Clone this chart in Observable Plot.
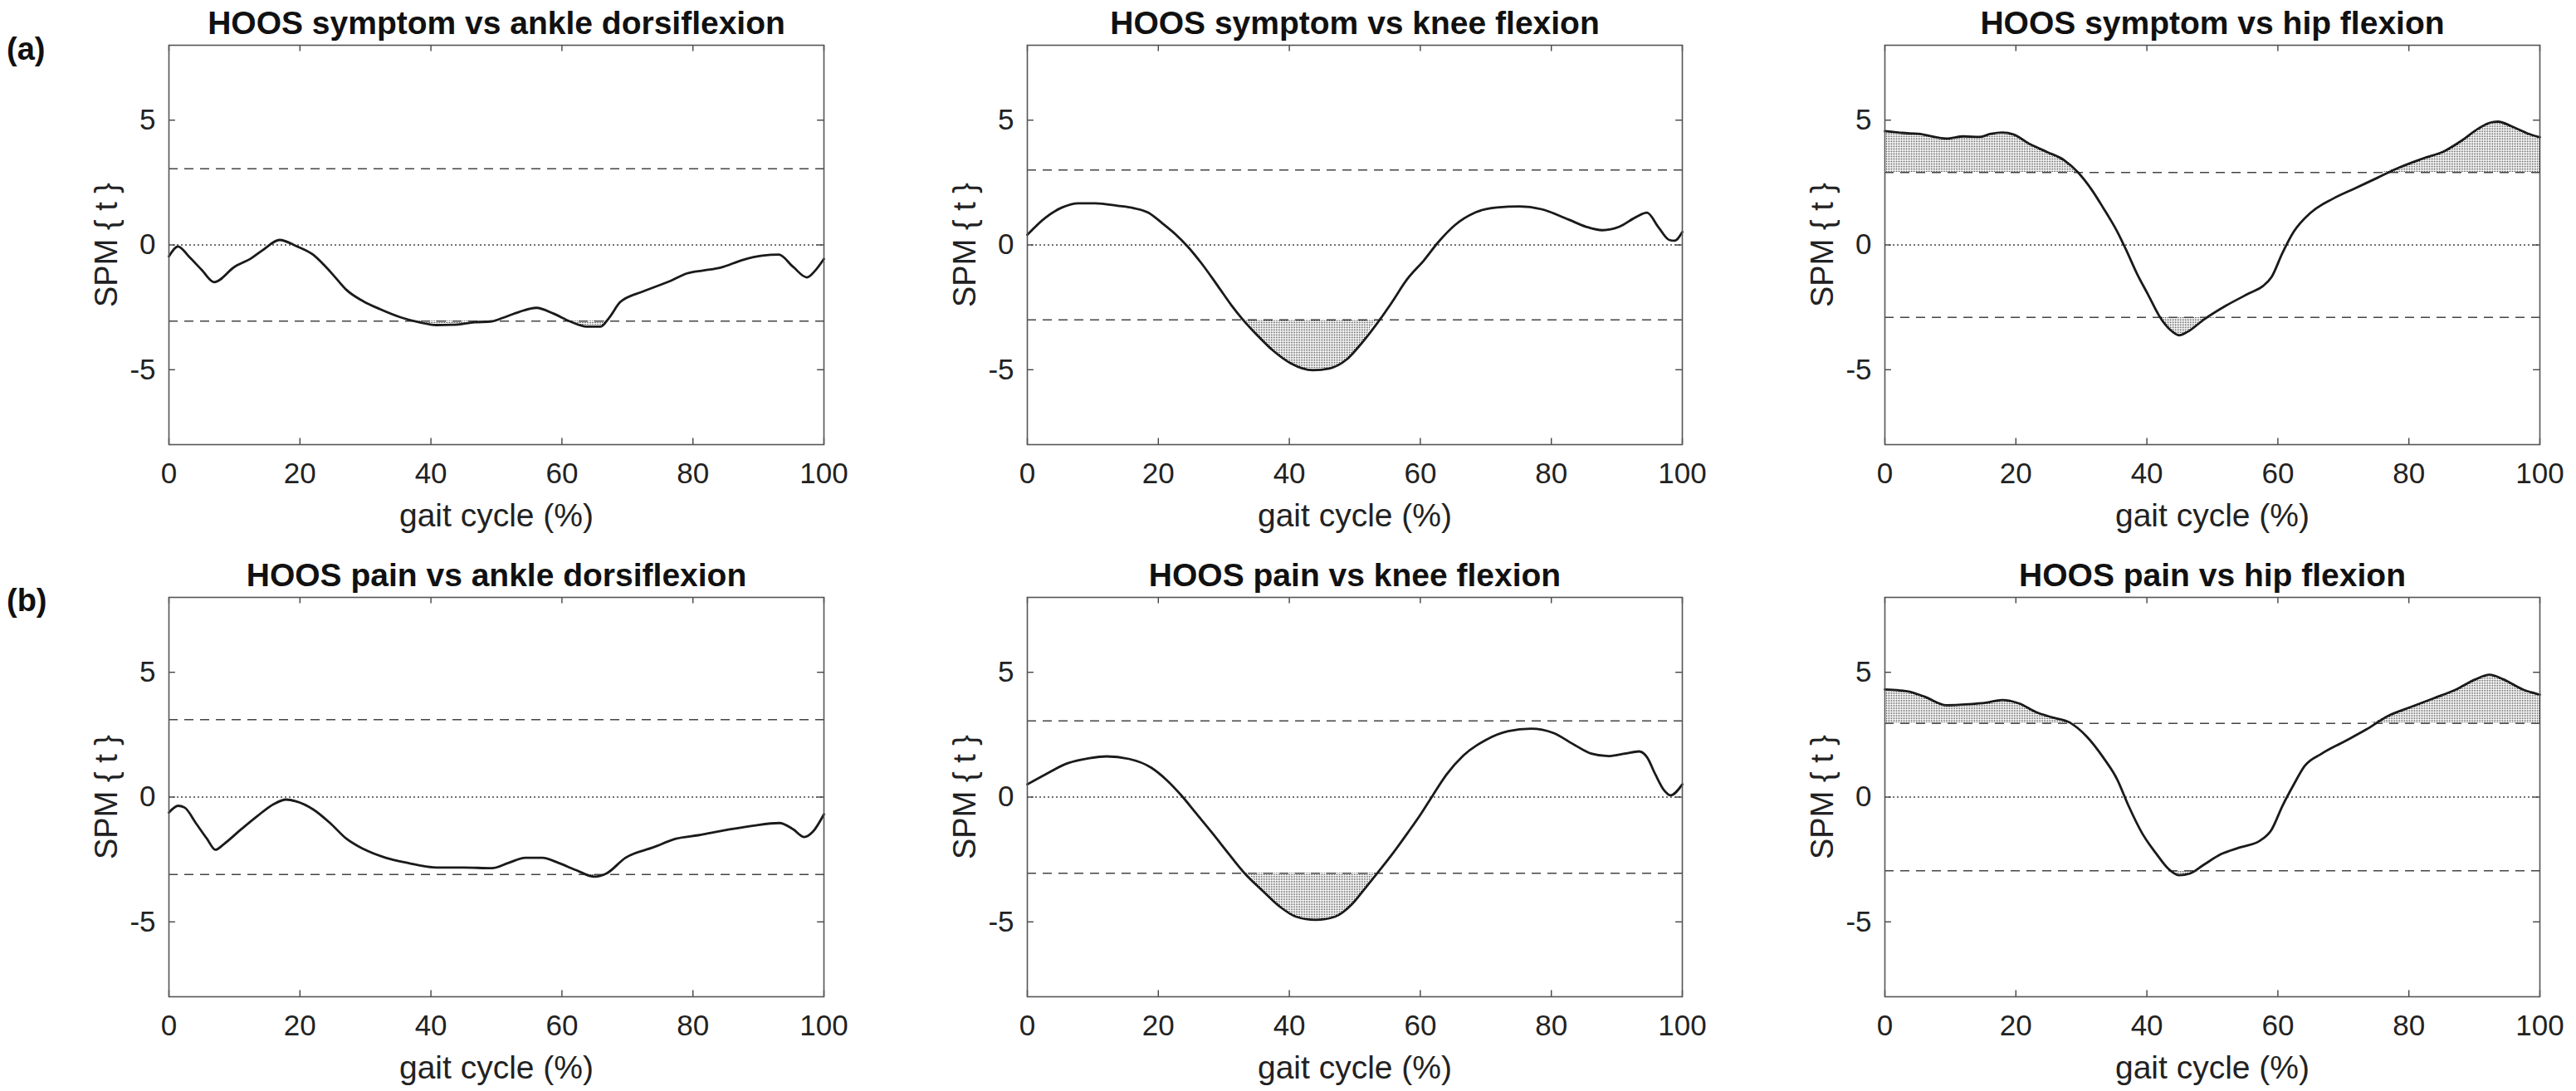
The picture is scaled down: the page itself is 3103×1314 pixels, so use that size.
<!DOCTYPE html>
<html>
<head>
<meta charset="utf-8">
<script src="https://cdn.jsdelivr.net/npm/d3@7"></script>
<script src="https://cdn.jsdelivr.net/npm/@observablehq/plot@0.6"></script>
<style>
  html, body { margin: 0; padding: 0; background: #fff; }
  body { width: 3103px; height: 1314px; position: relative; overflow: hidden;
         font-family: "Liberation Sans", Arial, Helvetica, sans-serif; color: #111; }
  .panel { position: absolute; }
  .tag { position: absolute; font-weight: bold; font-size: 38px; line-height: 1; left: 8px; }
</style>
</head>
<body>
<svg width="0" height="0" style="position:absolute">
  <defs>
    <pattern id="stip" width="2" height="2" patternUnits="userSpaceOnUse">
      <rect width="2" height="2" fill="#ffffff"></rect>
      <rect width="1" height="1" fill="#3a3a3a"></rect>
    </pattern>
  </defs>
</svg>
<div class="tag" style="top:40px">(a)</div>
<div class="tag" style="top:704px">(b)</div>
<div id="root"></div>
<script>
// ---------- data ----------
const xTicks = [0, 20, 40, 60, 80, 100];
const yTicks = [-5, 0, 5];
const xLabel = "gait cycle (%)";
const yLabel = "SPM { t }";

const titles = [
  "HOOS symptom vs ankle dorsiflexion",
  "HOOS symptom vs knee flexion",
  "HOOS symptom vs hip flexion",
  "HOOS pain vs ankle dorsiflexion",
  "HOOS pain vs knee flexion",
  "HOOS pain vs hip flexion"
];
const thresholds = [3.05, 3.0, 2.9, 3.1, 3.05, 2.95];

// (a) HOOS symptom vs ankle dorsiflexion
const symAnkleT = [0,1.4,3,5,6.9,10,12.6,14.3,16.9,19.4,22,23.7,25.4,27.1,29.7,32.2,35.6,38.2,40.8,43.3,46.7,49.3,51,53.5,56.1,58.7,61.2,63.8,65.9,67.2,68.9,72.3,76.6,79.1,81.7,84.2,87.6,90.6,93.1,95.3,97.4,98.7,100];
const symAnkleY = [-0.46,-0.06,-0.45,-1.0,-1.49,-0.88,-0.53,-0.21,0.2,-0.04,-0.39,-0.81,-1.3,-1.8,-2.26,-2.57,-2.92,-3.1,-3.21,-3.2,-3.1,-3.06,-2.92,-2.68,-2.52,-2.75,-3.06,-3.27,-3.27,-2.92,-2.29,-1.87,-1.44,-1.14,-1.02,-0.91,-0.6,-0.43,-0.39,-0.88,-1.3,-1.02,-0.56];

// (a) HOOS symptom vs knee flexion
const symKneeT = [0,2.7,5.3,7.8,10.4,13.8,16.3,18.5,20.6,22.7,24.4,26.6,29.1,31.2,32.9,35.1,37.6,40.2,43.6,46.1,48.7,51,53.8,55.5,58,60.6,62.7,65.3,68.3,71.7,75.1,78.5,82.7,85.3,87.8,90.4,92.9,94.6,96.3,98,98.8,100];
const symKneeY = [0.41,1.08,1.5,1.67,1.67,1.57,1.47,1.29,0.87,0.41,-0.04,-0.74,-1.65,-2.43,-2.99,-3.62,-4.25,-4.74,-5.02,-4.95,-4.6,-3.95,-3.0,-2.36,-1.37,-0.6,0.1,0.8,1.29,1.5,1.54,1.43,1.01,0.73,0.59,0.73,1.11,1.29,0.73,0.2,0.17,0.52];

// (a) HOOS symptom vs hip flexion
const symHipT = [0,2.6,5.1,9.4,12,14.5,16.2,17.9,19.7,22.2,24.8,27.4,29.5,31.6,33.3,35.5,36.8,38.5,40.2,41.9,43.6,44.9,46.2,48.7,52.1,55.6,57.7,59,60.7,62.4,65,68.4,71.8,75.2,78.6,82.1,85.5,88,90.6,92.3,93.6,95.7,98.3,100];
const symHipY = [4.56,4.49,4.45,4.26,4.35,4.33,4.45,4.5,4.42,4.03,3.72,3.39,2.9,2.2,1.5,0.52,-0.18,-1.16,-2.0,-2.85,-3.41,-3.62,-3.48,-2.99,-2.43,-1.94,-1.65,-1.3,-0.32,0.52,1.29,1.85,2.27,2.69,3.11,3.46,3.77,4.17,4.66,4.89,4.94,4.75,4.45,4.31];

// (b) HOOS pain vs ankle dorsiflexion
const painAnkleT = [0,1.4,2.4,4.1,5.8,7.1,8.4,10.9,13.5,16,17.9,19.4,22,24.6,27.1,29.7,33.1,36.5,40.8,45,49.3,51.8,54.4,57,59.5,62.1,65,66.8,69.7,74,77.4,80.8,85.1,89.3,93.2,95.3,97,98.3,100];
const painAnkleY = [-0.62,-0.35,-0.42,-1.04,-1.67,-2.11,-1.88,-1.32,-0.76,-0.28,-0.1,-0.17,-0.49,-1.04,-1.67,-2.08,-2.43,-2.64,-2.82,-2.82,-2.85,-2.64,-2.43,-2.43,-2.64,-2.92,-3.19,-3.06,-2.43,-2.01,-1.67,-1.53,-1.32,-1.14,-1.04,-1.29,-1.6,-1.39,-0.69];

// (b) HOOS pain vs knee flexion
const painKneeT = [0,2.7,6.1,9.5,12.1,15.5,18.9,21.4,23.6,25.7,28.3,30.8,33.2,35.9,38.5,41,44,47,49.5,51.7,53.4,55.5,58,60.2,61.9,64,66.6,70,73.4,76.9,80.3,83.6,86.1,88.7,91.2,93.4,94.6,95.9,97.2,98.2,100];
const painKneeY = [0.51,0.9,1.35,1.56,1.63,1.53,1.18,0.65,0.04,-0.63,-1.46,-2.29,-3.06,-3.75,-4.38,-4.79,-4.92,-4.79,-4.31,-3.61,-3.06,-2.36,-1.46,-0.63,0.07,0.9,1.67,2.29,2.64,2.74,2.57,2.08,1.74,1.64,1.74,1.83,1.6,0.9,0.28,0.07,0.51];

// (b) HOOS pain vs hip flexion
const painHipT = [0,3.4,6,9.4,12.8,15.4,17.9,20.5,23.1,25.6,28.2,30.8,33.3,35.5,37.2,39.3,41.5,43.2,44.9,46.6,48.7,51.3,54.3,57.3,59,60.7,62.4,64.1,66.7,70.1,73.5,76.9,80.3,83.8,87.2,90.2,92.3,94.4,97.4,100];
const painHipY = [4.31,4.24,4.03,3.68,3.72,3.78,3.89,3.75,3.4,3.19,2.99,2.43,1.6,0.69,-0.35,-1.46,-2.29,-2.85,-3.13,-3.06,-2.71,-2.29,-2.01,-1.74,-1.32,-0.35,0.49,1.25,1.74,2.22,2.71,3.26,3.61,3.96,4.31,4.72,4.9,4.72,4.31,4.1];

const seriesT = [symAnkleT, symKneeT, symHipT, painAnkleT, painKneeT, painHipT];
const seriesY = [symAnkleY, symKneeY, symHipY, painAnkleY, painKneeY, painHipY];

// ---------- layout ----------
const frameLefts = [203, 1237, 2270];
const frameTops = [54, 719];
const ML = 130, MR = 44, MT = 54, MB = 110;
const FW = 789, FH = 481;
const FONT = "'Liberation Sans', Arial, Helvetica, sans-serif";

const root = document.getElementById("root");

for (let i = 0; i < 6; i++) {
  const col = i % 3, row = Math.floor(i / 3);
  const thr = thresholds[i];
  const data = seriesT[i].map((t, j) => ({t, y: seriesY[i][j]}));
  const chart = Plot.plot({
    width: ML + FW + MR,
    height: MT + FH + MB,
    marginLeft: ML, marginRight: MR, marginTop: MT, marginBottom: MB,
    style: {fontFamily: FONT, fontSize: "35px", color: "#222", background: "transparent", overflow: "visible"},
    x: {domain: [0, 100], ticks: xTicks, tickSize: 0, tickPadding: 22, label: null, tickFormat: d => String(d)},
    y: {domain: [-8, 8], ticks: yTicks, tickSize: 0, tickPadding: 16, label: null, tickFormat: d => String(d)},
    marks: [
      Plot.areaY(data, {x: "t", y1: thr, y2: d => Math.max(d.y, thr), fill: "url(#stip)", curve: "monotone-x"}),
      Plot.areaY(data, {x: "t", y1: -thr, y2: d => Math.min(d.y, -thr), fill: "url(#stip)", curve: "monotone-x"}),
      Plot.ruleY([thr, -thr], {stroke: "#444", strokeWidth: 1.6, strokeDasharray: "11,8"}),
      Plot.ruleY([0], {stroke: "#444", strokeWidth: 1.6, strokeDasharray: "2,3"}),
      Plot.line(data, {x: "t", y: "y", stroke: "#1a1a1a", strokeWidth: 2.8, curve: "monotone-x"}),
      // inward MATLAB-style ticks on all four sides
      Plot.ruleX(xTicks, {y1: -8, y2: -7.75, stroke: "#444", strokeWidth: 1.4}),
      Plot.ruleX(xTicks, {y1: 8, y2: 7.75, stroke: "#444", strokeWidth: 1.4}),
      Plot.ruleY(yTicks, {x1: 0, x2: 1.0, stroke: "#444", strokeWidth: 1.4}),
      Plot.ruleY(yTicks, {x1: 100, x2: 99.0, stroke: "#444", strokeWidth: 1.4}),
      Plot.frame({stroke: "#555", strokeWidth: 1.6}),
      Plot.text([titles[i]], {text: d => d, frameAnchor: "top", dy: -26, lineAnchor: "middle",
        fontWeight: "bold", fontSize: 39, fill: "#111"}),
      Plot.text([xLabel], {text: d => d, frameAnchor: "bottom", dy: 86, lineAnchor: "middle",
        fontSize: 39, fill: "#222"}),
      Plot.text([yLabel], {text: d => d, frameAnchor: "left", dx: -75, rotate: -90, lineAnchor: "middle",
        textAnchor: "middle", fontSize: 38, fill: "#222"})
    ]
  });
  const wrap = document.createElement("div");
  wrap.className = "panel";
  wrap.style.left = (frameLefts[col] - ML) + "px";
  wrap.style.top = (frameTops[row] - MT) + "px";
  wrap.appendChild(chart);
  root.appendChild(wrap);
}
</script>
</body>
</html>
